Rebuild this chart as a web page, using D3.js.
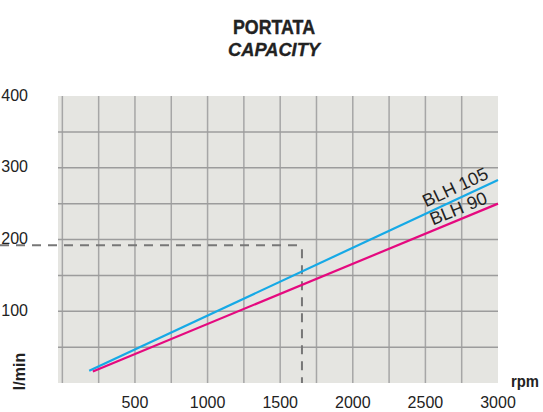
<!DOCTYPE html>
<html>
<head>
<meta charset="utf-8">
<script src="https://cdn.jsdelivr.net/npm/d3@7"></script>
<style>
  body { margin: 0; background: #fff; }
  text { font-family: "Liberation Sans", Arial, sans-serif; fill: #222; }
</style>
</head>
<body>
<div id="chart"></div>
<script>
// data
const xTickValues = [500, 1000, 1500, 2000, 2500, 3000];
const yTickValues = [100, 200, 300, 400];
const xGridValues = [0, 250, 500, 750, 1000, 1250, 1500, 1750, 2000, 2250, 2500, 2750];
const yGridValues = [50, 100, 150, 200, 250, 300, 350];
const seriesNames = ["BLH 105", "BLH 90"];
const blh105 = [[185, 17], [3000, 283]];
const blh90 = [[210, 16], [3000, 250]];
const refPoint = [1650, 192];

const width = 543;
const height = 412;
const plot = { left: 58, right: 498, top: 96, bottom: 383 };

const svg = d3.select("#chart")
    .append("svg")
    .attr("width", width)
    .attr("height", height);

const x = d3.scaleLinear().domain([-30, 3000]).range([plot.left, plot.right]);
const y = d3.scaleLinear().domain([0, 400]).range([plot.bottom, plot.top]);

// titles
svg.append("text")
    .attr("x", 274).attr("y", 34)
    .attr("text-anchor", "middle")
    .attr("font-size", 20).attr("font-weight", "bold")
    .attr("stroke", "#222").attr("stroke-width", 0.4)
    .attr("textLength", 82).attr("lengthAdjust", "spacingAndGlyphs")
    .text("PORTATA");
svg.append("text")
    .attr("x", 274).attr("y", 56)
    .attr("text-anchor", "middle")
    .attr("font-size", 19).attr("font-weight", "bold").attr("font-style", "italic")
    .attr("stroke", "#222").attr("stroke-width", 0.3)
    .attr("textLength", 92).attr("lengthAdjust", "spacingAndGlyphs")
    .text("CAPACITY");

// plot background
svg.append("rect")
    .attr("x", plot.left).attr("y", plot.top)
    .attr("width", plot.right - plot.left)
    .attr("height", plot.bottom - plot.top)
    .attr("fill", "#e5e5e1");

// grid
svg.append("g")
    .selectAll("line")
    .data(xGridValues)
    .join("line")
    .attr("x1", d => x(d)).attr("x2", d => x(d))
    .attr("y1", plot.top).attr("y2", plot.bottom)
    .attr("stroke", "#a6a6a6").attr("stroke-width", 1.5);
svg.append("g")
    .selectAll("line")
    .data(yGridValues)
    .join("line")
    .attr("x1", plot.left).attr("x2", plot.right)
    .attr("y1", d => y(d)).attr("y2", d => y(d))
    .attr("stroke", "#9c9c9c").attr("stroke-width", 1.5);

// reference dashed lines
svg.append("path")
    .attr("d", `M0,${y(refPoint[1])}H${x(refPoint[0])}`)
    .attr("fill", "none")
    .attr("stroke", "#777").attr("stroke-width", 2)
    .attr("stroke-dasharray", "9,7");
svg.append("path")
    .attr("d", `M${x(refPoint[0])},${y(refPoint[1]) + 4}V${plot.bottom}`)
    .attr("fill", "none")
    .attr("stroke", "#777").attr("stroke-width", 2)
    .attr("stroke-dasharray", "9,7");

// tick labels
svg.append("g")
    .selectAll("text")
    .data(xTickValues)
    .join("text")
    .attr("x", d => x(d))
    .attr("y", 408)
    .attr("text-anchor", "middle")
    .attr("font-size", 16)
    .text(d => d);
svg.append("g")
    .selectAll("text")
    .data(yTickValues)
    .join("text")
    .attr("x", 28)
    .attr("y", d => y(d) + 4.5)
    .attr("text-anchor", "end")
    .attr("font-size", 16)
    .text(d => d);

// axis titles
svg.append("text")
    .attr("transform", "translate(25,371.5) rotate(-90)")
    .attr("text-anchor", "middle")
    .attr("font-size", 16).attr("font-weight", "bold")
    .text("l/min");
svg.append("text")
    .attr("x", 525).attr("y", 387)
    .attr("text-anchor", "middle")
    .attr("font-size", 16).attr("font-weight", "bold")
    .attr("textLength", 28).attr("lengthAdjust", "spacingAndGlyphs")
    .text("rpm");

// series lines
const line = d3.line().x(d => x(d[0])).y(d => y(d[1]));
const series = [
    { name: seriesNames[0], values: blh105, color: "#16a9e6", labelX: 426, off: 6 },
    { name: seriesNames[1], values: blh90, color: "#e5097f", labelX: 433, off: 5 }
];

series.forEach(s => {
    svg.append("path")
        .datum(s.values)
        .attr("d", line)
        .attr("fill", "none")
        .attr("stroke", s.color)
        .attr("stroke-width", 2.2);

    const p0 = [x(s.values[0][0]), y(s.values[0][1])];
    const p1 = [x(s.values[1][0]), y(s.values[1][1])];
    const slope = (p1[1] - p0[1]) / (p1[0] - p0[0]);
    const angle = Math.atan(slope) * 180 / Math.PI;
    const ly = p0[1] + (s.labelX - p0[0]) * slope - s.off;
    svg.append("text")
        .attr("transform", `translate(${s.labelX},${ly}) rotate(${angle})`)
        .attr("font-size", 18)
        .attr("fill", "#2a2a2a")
        .text(s.name);
});
</script>
</body>
</html>
